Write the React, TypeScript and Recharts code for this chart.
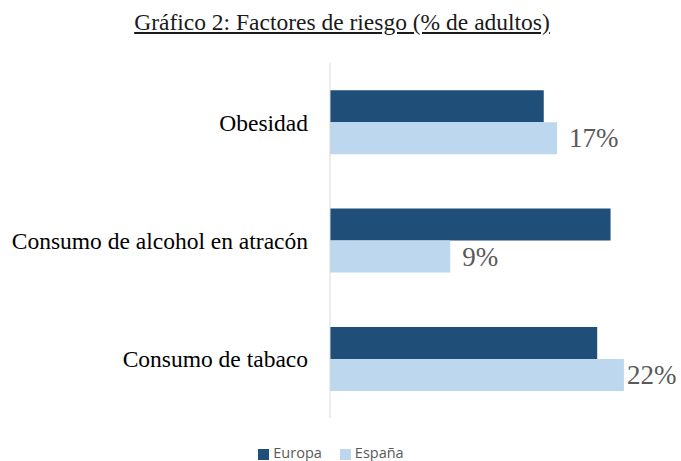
import React from 'react';
import { BarChart, Bar, XAxis, YAxis, Legend, LabelList } from 'recharts';

const categorias = ['Obesidad', 'Consumo de alcohol en atracón', 'Consumo de tabaco'];
const europa = [16, 21, 20];
const espana = [17, 9, 22];
const ordenLeyenda = ['Europa', 'España'];

const datos = categorias.map((name, i) => ({
  name,
  Europa: europa[i],
  España: espana[i],
}));

const ANCHO = 681;
const ALTO = 461;
const SERIF = "'Liberation Serif', 'Times New Roman', serif";

const renderEtiqueta = (props: any) => {
  const { x, y, width, height, value } = props;
  const tx = Math.min(Number(x) + Number(width) + 12, ANCHO - 54);
  return (
    <text
      x={tx}
      y={Number(y) + Number(height) / 2}
      dominantBaseline="central"
      fontFamily={SERIF}
      fontSize={27}
      fill="#595959"
    >
      {value}%
    </text>
  );
};

export default function App() {
  return (
    <div style={{ position: 'absolute', left: 0, top: 0, width: ANCHO, height: ALTO, background: '#fff' }}>
      <div
        style={{
          position: 'absolute',
          left: 0,
          top: 9,
          width: 684,
          textAlign: 'center',
          fontFamily: SERIF,
          fontSize: 23.5,
          textDecoration: 'underline',
          color: '#1a1a1a',
          lineHeight: '27px',
        }}
      >
        Gráfico 2: Factores de riesgo (% de adultos)
      </div>
      <BarChart
        width={ANCHO}
        height={ALTO}
        data={datos}
        layout="vertical"
        margin={{ top: 63, right: 17, bottom: 24, left: 0 }}
        barCategoryGap="23%"
        barGap={0}
      >
        <XAxis type="number" domain={[0, 25]} hide />
        <YAxis
          type="category"
          dataKey="name"
          width={330}
          axisLine={{ stroke: '#d9d9d9' }}
          tickLine={false}
          tickSize={0}
          tickMargin={22}
          tick={{ fill: '#000', fontSize: 23.5, fontFamily: SERIF }}
        />
        <Legend
          verticalAlign="bottom"
          iconType="square"
          iconSize={11}
          itemSorter={(e: any) => ordenLeyenda.indexOf(String(e.value))}
          wrapperStyle={{ fontFamily: "'Open Sans', 'Liberation Sans', sans-serif", fontSize: 14.5, color: '#595959', bottom: -1, left: 8 }}
          formatter={(v: string) => <span style={{ color: '#595959', marginRight: 8 }}>{v}</span>}
        />
        <Bar dataKey="Europa" fill="#1F4E79" isAnimationActive={false} />
        <Bar dataKey="España" fill="#BDD7EE" isAnimationActive={false}>
          <LabelList dataKey="España" content={renderEtiqueta} />
        </Bar>
      </BarChart>
    </div>
  );
}
